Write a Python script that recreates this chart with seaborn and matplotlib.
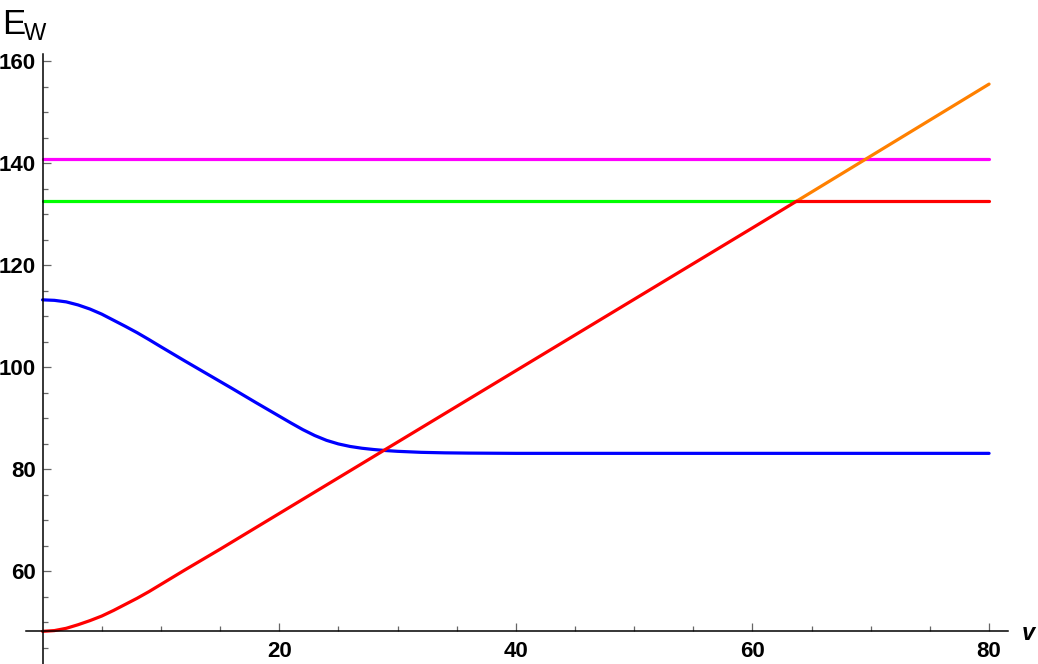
import matplotlib
matplotlib.use("Agg")
import matplotlib.pyplot as plt
from matplotlib.ticker import FixedLocator
import seaborn as sns

# Data
v_red = [0, 1, 2, 3, 4, 5, 6, 7, 8, 9, 10, 12, 15, 20, 30, 40, 50, 60, 63.7]
E_red = [48.2, 48.35, 48.8, 49.5, 50.3, 51.2, 52.3, 53.5, 54.7, 56.0, 57.4,
         60.2, 64.3, 71.3, 85.3, 99.3, 113.3, 127.3, 132.5]

v_orange = [63.7, 80]
E_orange = [132.5, 155.5]

v_red_flat = [63.7, 80]
E_red_flat = [132.5, 132.5]

v_green = [0, 63.7]
E_green = [132.5, 132.5]

v_magenta = [0, 80]
E_magenta = [140.8, 140.8]

v_blue = [0, 1, 2, 3, 4, 5, 6, 7, 8, 9, 10, 12, 14, 16, 18, 19, 20, 21, 22,
          23, 24, 25, 26, 27, 28, 29, 30, 32, 34, 36, 40, 80]
E_blue = [113.2, 113.1, 112.8, 112.2, 111.4, 110.4, 109.2, 108.0, 106.75,
          105.4, 104.0, 101.25, 98.55, 95.85, 93.1, 91.75, 90.4, 89.05,
          87.75, 86.6, 85.65, 84.95, 84.45, 84.1, 83.85, 83.65, 83.5, 83.3,
          83.2, 83.15, 83.1, 83.1]

x_major = [20, 40, 60, 80]
y_major = [60, 80, 100, 120, 140, 160]
x_minor = [5, 10, 15, 25, 30, 35, 45, 50, 55, 65, 70, 75]
y_minor = [45, 50, 55, 65, 70, 75, 85, 90, 95, 105, 110, 115, 125, 130, 135,
           145, 150, 155]

sns.set_theme(style="ticks")
plt.rcParams['font.family'] = ['Liberation Sans', 'DejaVu Sans']

fig = plt.figure(figsize=(10.38, 6.64), dpi=100)
ax = fig.add_axes([26 / 1038, 0.0, 982 / 1038, 1 - 54 / 664])

lw = 2.3
sns.lineplot(x=v_magenta, y=E_magenta, color="#FF00FF", linewidth=lw, ax=ax)
sns.lineplot(x=v_green, y=E_green, color="#00FF00", linewidth=lw, ax=ax)
sns.lineplot(x=v_blue, y=E_blue, color="#0000FF", linewidth=lw, ax=ax)
sns.lineplot(x=v_orange, y=E_orange, color="#FF8000", linewidth=lw, ax=ax)
sns.lineplot(x=v_red_flat, y=E_red_flat, color="#FF0000", linewidth=lw, ax=ax)
sns.lineplot(x=v_red, y=E_red, color="#FF0000", linewidth=lw, ax=ax)

ax.set_xlim(-1.4, 81.6)
ax.set_ylim(41.8, 161.4)

# Mathematica-style axes crossing at the plot origin
ax.spines['left'].set_position(('data', 0))
ax.spines['bottom'].set_position(('data', 48.2))
ax.spines['right'].set_visible(False)
ax.spines['top'].set_visible(False)
for s in ['left', 'bottom']:
    ax.spines[s].set_color('black')
    ax.spines[s].set_linewidth(1.1)

ax.xaxis.set_major_locator(FixedLocator(x_major))
ax.yaxis.set_major_locator(FixedLocator(y_major))
ax.xaxis.set_minor_locator(FixedLocator(x_minor))
ax.yaxis.set_minor_locator(FixedLocator(y_minor))
ax.tick_params(which='both', bottom=True, left=True, top=False, right=False)
ax.tick_params(which='major', direction='in', length=6, width=0.9,
               color='#666666', labelcolor='black', labelsize=16, pad=7)
ax.tick_params(which='minor', direction='in', length=3.5, width=0.9,
               color='#666666')
ax.tick_params(axis='y', which='major', pad=5)
for lab in ax.get_xticklabels() + ax.get_yticklabels():
    lab.set_fontweight('bold')

ax.set_xlabel('')
ax.set_ylabel('')
ax.grid(False)

fig.text(2 / 1038, 1 - 34 / 664, 'E', fontsize=25, color='black')
fig.text(24 / 1038, 1 - 40 / 664, 'W', fontsize=17, color='black')
fig.text(1022 / 1038, 1 - 640 / 664, 'v', fontsize=17, fontweight='bold',
         fontstyle='italic', color='black')

fig.savefig('out.png', dpi=100)
